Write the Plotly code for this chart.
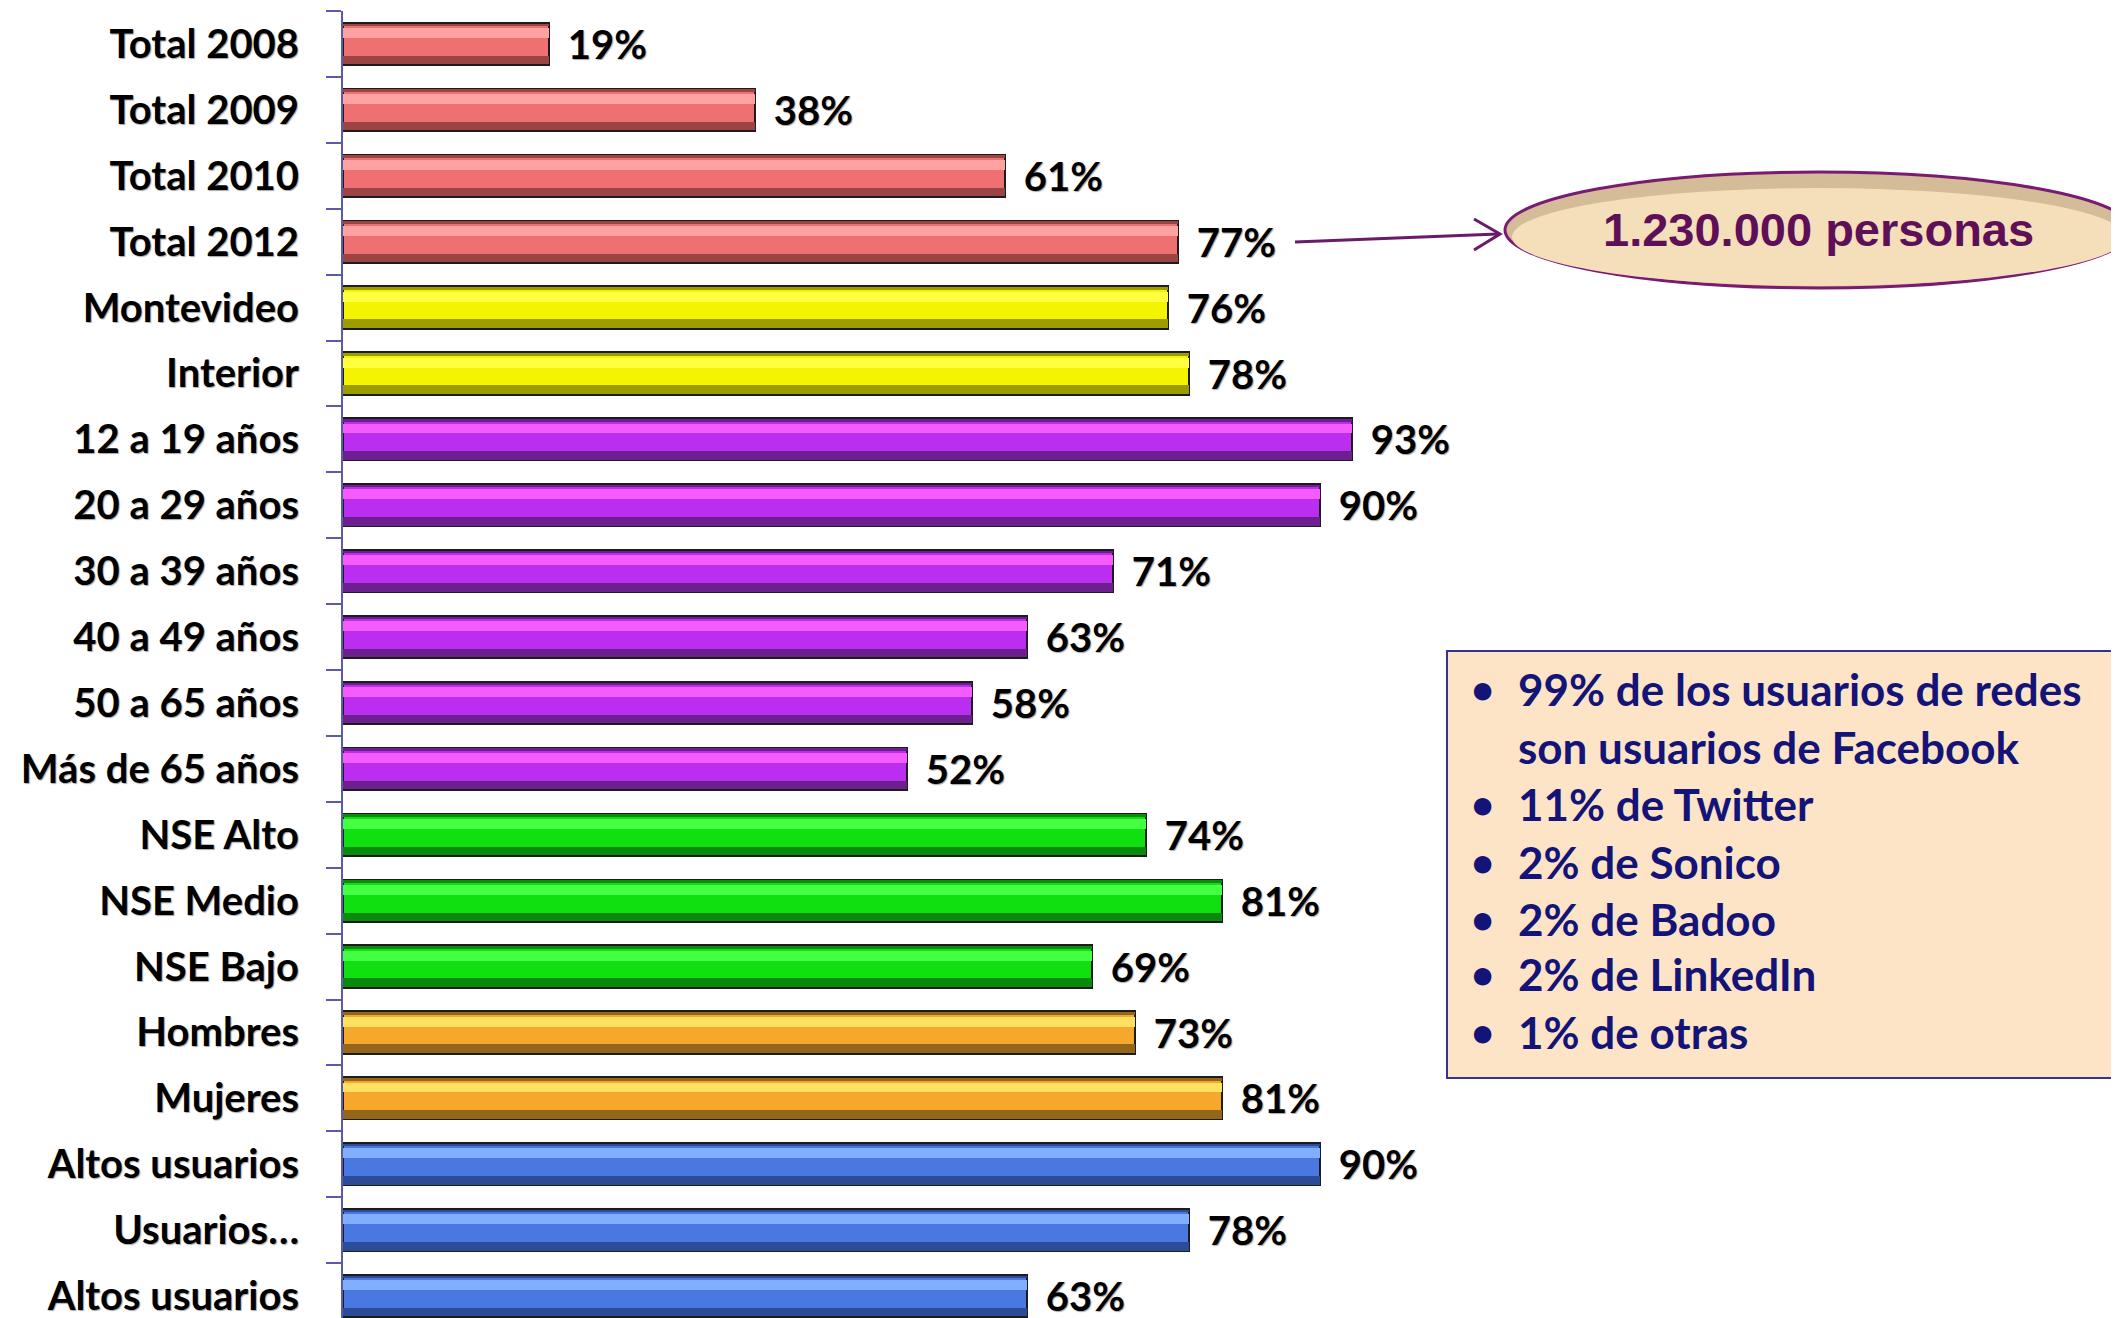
import plotly.graph_objects as go

# datos
categorias = ["Total 2008", "Total 2009", "Total 2010", "Total 2012", "Montevideo", "Interior",
              "12 a 19 años", "20 a 29 años", "30 a 39 años", "40 a 49 años", "50 a 65 años",
              "Más de 65 años", "NSE Alto", "NSE Medio", "NSE Bajo", "Hombres", "Mujeres",
              "Altos usuarios", "Usuarios…", "Altos usuarios"]
valores = [19, 38, 61, 77, 76, 78, 93, 90, 71, 63, 58, 52, 74, 81, 69, 73, 81, 90, 78, 63]
grupos = ["total"] * 4 + ["region"] * 2 + ["edad"] * 6 + ["nse"] * 3 + ["sexo"] * 2 + ["uso"] * 3

redes = ["99% de los usuarios de redes", "son usuarios de Facebook", "11% de Twitter",
         "2% de Sonico", "2% de Badoo", "2% de LinkedIn", "1% de otras"]
con_vineta = [True, False, True, True, True, True, True]
nota = "1.230.000 personas"

# colores (base, brillo, sombra)
paleta = {
    "total": ("#ee7070", "#ffa2a2", "#9a4444"),
    "region": ("#f4f400", "#ffff40", "#9c9c00"),
    "edad": ("#bb2ef0", "#f55cff", "#6c2090"),
    "nse": ("#10e010", "#44ff44", "#0a8a0a"),
    "sexo": ("#f5a82c", "#ffe060", "#94661c"),
    "uso": ("#4878e0", "#82aeff", "#2c4c98"),
}
base = [paleta[g][0] for g in grupos]
brillo = [paleta[g][1] for g in grupos]
sombra = [paleta[g][2] for g in grupos]

# la página tiene 8px de margen en el body
OFF = 8
W, H = 2119 - OFF, 1318 - OFF
L, T = 343 - OFF, 11 - OFF
PW, PH = W - L, H - T

def px_x(X):
    return (X - OFF - L) / PW

def px_y(Y):
    return 1 - (Y - OFF - T) / PH

pos = list(range(len(categorias)))
fuente = "Lato, 'Open Sans', sans-serif"
sombra_txt = "1px 1px 1px rgba(0,0,0,0.35)"

fig = go.Figure()

fig.add_trace(go.Bar(
    x=valores, y=pos, orientation="h", width=0.64,
    marker=dict(color=base, line=dict(color="#1c1c1c", width=2)),
    text=["\u2004\u200a" + str(v) + "%" for v in valores],
    textposition="outside", constraintext="none", cliponaxis=False,
    textfont=dict(family=fuente, size=40, color="black", weight="bold", shadow=sombra_txt),
    hoverinfo="skip",
))
# borde oscuro superior
fig.add_trace(go.Bar(
    x=valores, y=pos, orientation="h", width=0.04, offset=-0.31,
    marker=dict(color=sombra, line=dict(width=0)), hoverinfo="skip",
))
# brillo superior
fig.add_trace(go.Bar(
    x=valores, y=pos, orientation="h", width=0.15, offset=-0.24,
    marker=dict(color=brillo, line=dict(width=0)), hoverinfo="skip",
))
# sombra inferior
fig.add_trace(go.Bar(
    x=valores, y=pos, orientation="h", width=0.13, offset=0.18,
    marker=dict(color=sombra, line=dict(width=0)), hoverinfo="skip",
))

fig.update_layout(
    width=W, height=H,
    margin=dict(l=L, r=0, t=T, b=0),
    paper_bgcolor="white", plot_bgcolor="white",
    barmode="overlay", bargap=0, showlegend=False,
    xaxis=dict(visible=False, range=[0, PW / 10.85]),
    yaxis=dict(
        range=[-0.5 + PH / 65.9, -0.5],
        tickmode="array", tickvals=pos, ticktext=categorias,
        ticks="outside", ticklen=34, tickcolor="rgba(0,0,0,0)",
        ticklabeloverflow="allow",
        tickfont=dict(family=fuente, size=40, color="black", weight="bold", shadow=sombra_txt),
        showline=True, linecolor="#5b5bab", linewidth=2,
        showgrid=False, zeroline=False, automargin=False,
        minor=dict(tickmode="array", tickvals=[p - 0.5 for p in pos] + [len(pos) - 0.5],
                   ticks="outside", ticklen=15, tickcolor="#5b5bab", tickwidth=2, showgrid=False),
    ),
)

# flecha hacia la elipse
fig.add_shape(type="line", xref="paper", yref="paper",
              x0=px_x(1295), y0=px_y(242), x1=px_x(1498), y1=px_y(234),
              line=dict(color="#6a1a6a", width=3))
fig.add_shape(type="path", xref="paper", yref="paper",
              path="M %f,%f L %f,%f L %f,%f" % (px_x(1474), px_y(219), px_x(1500), px_y(234),
                                                 px_x(1474), px_y(250)),
              line=dict(color="#6a1a6a", width=3))

# elipse
fig.add_shape(type="circle", xref="paper", yref="paper",
              x0=px_x(1505), x1=px_x(2132), y0=px_y(288), y1=px_y(172),
              fillcolor="#d3bc97", line=dict(color="#7a1a72", width=3), layer="above")
fig.add_shape(type="circle", xref="paper", yref="paper",
              x0=px_x(1512), x1=px_x(2125), y0=px_y(286), y1=px_y(188),
              fillcolor="#f5dfbb", line=dict(width=0), layer="above")
fig.add_annotation(x=px_x(1818), y=px_y(230), xref="paper", yref="paper",
                   text=nota, showarrow=False, xanchor="center", yanchor="middle",
                   font=dict(family="'Liberation Sans', Arial, sans-serif",
                             size=47, color="#5e0f58", weight="bold"))

# recuadro de redes
fig.add_shape(type="rect", xref="paper", yref="paper",
              x0=px_x(1447), x1=px_x(2135), y0=px_y(1078), y1=px_y(651),
              fillcolor="#fde4c6", line=dict(color="#34348a", width=2), layer="above")
lineas_y = [689, 747, 804, 862, 919, 974, 1032]
for txt, vin, yy in zip(redes, con_vineta, lineas_y):
    if vin:
        fig.add_annotation(x=px_x(1482), y=px_y(yy), xref="paper", yref="paper",
                           text="•", showarrow=False, xanchor="center", yanchor="middle",
                           font=dict(family=fuente, size=40, color="#141478", weight="bold"))
    fig.add_annotation(x=px_x(1516), y=px_y(yy), xref="paper", yref="paper",
                       text=txt, showarrow=False, xanchor="left", yanchor="middle",
                       font=dict(family=fuente, size=44, color="#141478", weight="bold"))

fig.write_html("out.html")
